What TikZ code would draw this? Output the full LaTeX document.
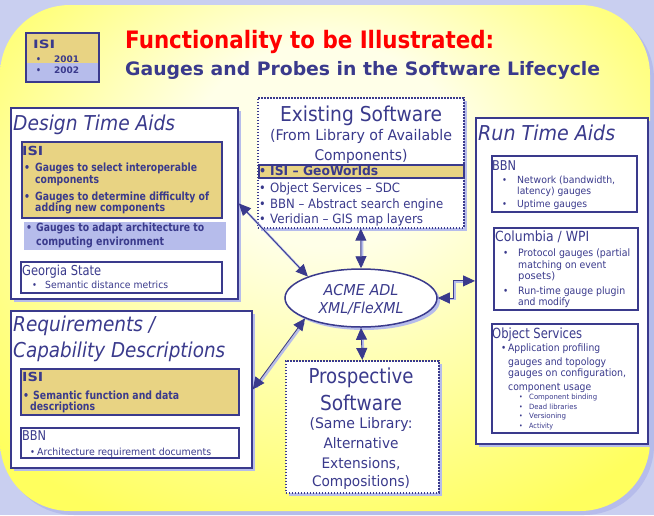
\documentclass[tikz,border=0pt]{standalone}
\usepackage{fontspec}
\usepackage{graphicx}
\setmainfont{DejaVu Sans}[FakeStretch=0.88]
\newfontfamily\bfam{DejaVu Sans}[FakeStretch=0.85]
\usetikzlibrary{shapes.geometric,arrows.meta,shadows}
\definecolor{navy}{HTML}{3A3A8C}
\definecolor{lav}{HTML}{B6BCEB}
\definecolor{bglav}{HTML}{C9CFF0}
\definecolor{tanc}{HTML}{E8D383}
\definecolor{ylw}{HTML}{FFFF5E}
\definecolor{pale}{HTML}{FFFFE8}
\pgfdeclareradialshading{bgshade}{\pgfpoint{0bp}{14bp}}{color(0bp)=(pale);color(10bp)=(pale);color(34bp)=(ylw);color(50bp)=(ylw)}
\newcounter{tn}
\newcommand\fitw[2]{\setbox0=\hbox{#2}\pgfmathsetmacro\fitsf{#1/\the\wd0}\scalebox{\fitsf}[1]{\box0}}
\newcommand\putxt[4][]{\stepcounter{tn}\node[txt,#1] (t\thetn) at (#2) {\fitw{#3}{#4}};}
\newcommand\putb[2][]{\stepcounter{tn}\node[txt,#1] (t\thetn) at (#2) {•};}
\newcommand\conn[1]{\draw[connS] #1; \draw[connL] #1;}
\tikzset{
  txt/.style={anchor=base west, inner sep=0pt, text=navy},
  ftr/.style={font=\fontsize{#1}{#1}\selectfont},
  ftb/.style={font=\bfam\fontsize{#1}{#1}\selectfont\bfseries},
  fti/.style={font=\fontsize{#1}{#1}\selectfont\itshape},
  shad/.style={drop shadow={shadow xshift=3pt, shadow yshift=-3pt, fill=lav, opacity=1}},
  outerbox/.style={draw=navy, line width=1.8pt, fill=white, shad, anchor=north west, inner sep=0pt},
  innerbox/.style={draw=navy, line width=1.5pt, fill=white, anchor=north west, inner sep=0pt},
  tanbox/.style={innerbox, fill=tanc},
  dotbox/.style={draw=navy, line width=1.6pt, dash pattern=on 1.6pt off 1.4pt, fill=white, shad, anchor=north west, inner sep=0pt},
  connS/.style={draw=lav, line width=2.2pt, transform canvas={xshift=1.3pt, yshift=-1.3pt}, shorten <=4pt, shorten >=4pt},
  connL/.style={draw=navy, line width=0.9pt, {Triangle[length=12pt,width=11pt]}-{Triangle[length=12pt,width=11pt]}},
}
\begin{document}
\begin{tikzpicture}[x=1pt,y=-1pt]
\useasboundingbox (0,0) rectangle (654,515);
% background
\fill[bglav] (0,0) rectangle (654,515);
\fill[lav, rounded corners=70pt] (4,9) rectangle (654,515);
\shade[shading=bgshade, rounded corners=70pt] (0,5) rectangle (650,511);

% header
\fill[tanc] (25,32) rectangle (98,63);
\fill[lav] (25,63) rectangle (98,81);
\node[draw=navy, line width=1.5pt, minimum width=73pt, minimum height=49pt, anchor=north west, inner sep=0pt] (hdr) at (25,32) {};
\putxt[ftb=11.5]{33,48}{22}{ISI}
\putb[ftb=9]{36,62}
\putxt[ftb=9]{54,62}{25}{2001}
\putb[ftb=9]{36,73}
\putxt[ftb=9]{54,73}{25}{2002}
\putxt[ftb=24, text=red]{125,48}{369}{Functionality to be Illustrated:}
\putxt[ftb=18.5]{125,75}{475}{Gauges and Probes in the Software Lifecycle}

% design time aids
\node[outerbox, minimum width=227pt, minimum height=191pt] (design) at (10,107) {};
\node[tanbox, minimum width=200pt, minimum height=76pt] (dIsi) at (21,141) {};
\node[fill=lav, anchor=north west, inner sep=0pt, minimum width=202pt, minimum height=28pt] (dLav) at (24,222) {};
\node[innerbox, minimum width=201pt, minimum height=31pt] (dGeo) at (20,261) {};
\putxt[fti=20.5]{13,130}{162}{Design Time Aids}
\putxt[ftb=12.5]{22,155}{21}{ISI}
\putb[ftb=11]{24,171.7}
\putxt[ftb=11.3]{35,171.7}{162}{Gauges to select interoperable}
\putxt[ftb=11.3]{35,183}{64}{components}
\putb[ftb=11]{24,200.7}
\putxt[ftb=11.3]{35,200.7}{174}{Gauges to determine difficulty of}
\putxt[ftb=11.3]{35,211.7}{130}{adding new components}
\putb[ftb=11]{26,231.7}
\putxt[ftb=11.3]{36,231.7}{168}{Gauges to adapt architecture to}
\putxt[ftb=11.3]{36,245}{128}{computing environment}
\putxt[ftr=13.7]{22,275}{79}{Georgia State}
\putb[ftr=9.5]{32,288}
\putxt[ftr=9.8]{45,288}{123}{Semantic distance metrics}

% requirements
\node[outerbox, minimum width=241pt, minimum height=157pt] (req) at (10,310) {};
\node[tanbox, minimum width=218pt, minimum height=46pt] (rIsi) at (20,368) {};
\node[innerbox, minimum width=218pt, minimum height=30pt] (rBbn) at (20,427) {};
\putxt[fti=20.5]{13,331.7}{142}{Requirements /}
\putxt[fti=20.5]{13,357.3}{212}{Capability Descriptions}
\putxt[ftb=12.5]{22,381.7}{21}{ISI}
\putb[ftb=11]{23,399}
\putxt[ftb=11.3]{33,399}{146}{Semantic function and data}
\putxt[ftb=11.3]{30,410}{65}{descriptions}
\putxt[ftr=13.5]{22,440}{24}{BBN}
\putb[ftr=9.5]{30,455}
\putxt[ftr=9.8]{37,455}{174}{Architecture requirement documents}

% existing software
\node[dotbox, minimum width=206pt, minimum height=130pt] (exist) at (257,97) {};
\node[tanbox, minimum width=205pt, minimum height=13pt] (geo) at (258,164) {};
\putxt[ftr=20.5, anchor=base]{361,121.7}{162}{Existing Software}
\putxt[ftr=14.7, anchor=base]{361,140}{182}{(From Library of Available}
\putxt[ftr=14.7, anchor=base]{361,160}{93}{Components)}
\putb[ftb=13]{259,175}
\putxt[ftb=13]{270,175}{108}{ISI – GeoWorlds}
\putb[ftr=12.8]{259,192.7}
\putxt[ftr=12.8]{270,192.7}{130}{Object Services – SDC}
\putb[ftr=12.8]{259,208.3}
\putxt[ftr=12.8]{270,208.3}{173}{BBN – Abstract search engine}
\putb[ftr=12.8]{259,223.3}
\putxt[ftr=12.8]{270,223.3}{153}{Veridian – GIS map layers}

% run time aids
\node[outerbox, minimum width=172pt, minimum height=326pt] (run) at (475,117) {};
\node[innerbox, minimum width=145pt, minimum height=56pt] (rtBbn) at (491,155) {};
\node[innerbox, minimum width=144pt, minimum height=82pt] (rtCol) at (493,227) {};
\node[innerbox, minimum width=146pt, minimum height=109pt] (rtObj) at (491,323) {};
\putxt[fti=20.5]{478,140.7}{137}{Run Time Aids}
\putxt[ftr=13.5]{492,170}{24}{BBN}
\putb[ftr=9.5]{502,183.3}
\putxt[ftr=9.8]{517,183.3}{98}{Network (bandwidth,}
\putxt[ftr=9.8]{517,194}{74}{latency) gauges}
\putb[ftr=9.5]{502,207.3}
\putxt[ftr=9.8]{517,207.3}{70}{Uptime gauges}
\putxt[ftr=14]{495,241.7}{94}{Columbia / WPI}
\putb[ftr=10]{503,256.7}
\putxt[ftr=10.2]{518,256.7}{112}{Protocol gauges (partial}
\putxt[ftr=10.2]{518,268.3}{88}{matching on event}
\putxt[ftr=10.2]{518,279.3}{37}{posets)}
\putb[ftr=10]{503,294}
\putxt[ftr=10.2]{518,294}{107}{Run-time gauge plugin}
\putxt[ftr=10.2]{518,305}{52}{and modify}
\putxt[ftr=14]{492,338.3}{90}{Object Services}
\putb[ftr=10]{501,351.7}
\putxt[ftr=10.2]{508,351.7}{92}{Application profiling}
\putxt[ftr=10.2]{508,365}{98}{gauges and topology}
\putxt[ftr=10.2]{508,376.7}{118}{gauges on configuration,}
\putxt[ftr=10.2]{508,390}{83}{component usage}
\putb[ftr=7]{519,399.3}
\putxt[ftr=7.2]{529,399.3}{68}{Component binding}
\putb[ftr=7]{519,409}
\putxt[ftr=7.2]{529,409}{48}{Dead libraries}
\putb[ftr=7]{519,418.3}
\putxt[ftr=7.2]{529,418.3}{37}{Versioning}
\putb[ftr=7]{519,428.3}
\putxt[ftr=7.2]{529,428.3}{24}{Activity}

% ellipse
\node[ellipse, draw=navy, line width=1.5pt, fill=white, shad, minimum width=152pt, minimum height=58pt, inner sep=0pt] (ell) at (361,298) {};
\putxt[fti=15, anchor=base]{361,295}{75}{ACME ADL}
\putxt[fti=15, anchor=base]{361,313.3}{85}{XML/FleXML}

% prospective
\node[dotbox, minimum width=153pt, minimum height=132pt] (prosp) at (285,360) {};
\putxt[ftr=20.6, anchor=base]{361,383.3}{105}{Prospective}
\putxt[ftr=20.6, anchor=base]{361,410}{82}{Software}
\putxt[ftr=14.5, anchor=base]{361,428.3}{103}{(Same Library:}
\putxt[ftr=14.5, anchor=base]{361,448.3}{75}{Alternative}
\putxt[ftr=14.5, anchor=base]{361,468.3}{79}{Extensions,}
\putxt[ftr=14.5, anchor=base]{361,486.7}{98}{Compositions)}

% connectors
\conn{(exist.south) -- (ell.north)}
\conn{(ell.south) -- (prosp.north)}
\conn{(design.east) -- (ell.158)}
\conn{(req.east) -- (ell.200)}
\conn{(ell.east) -- ++(16,0) |- (run.west)}
\end{tikzpicture}
\end{document}
